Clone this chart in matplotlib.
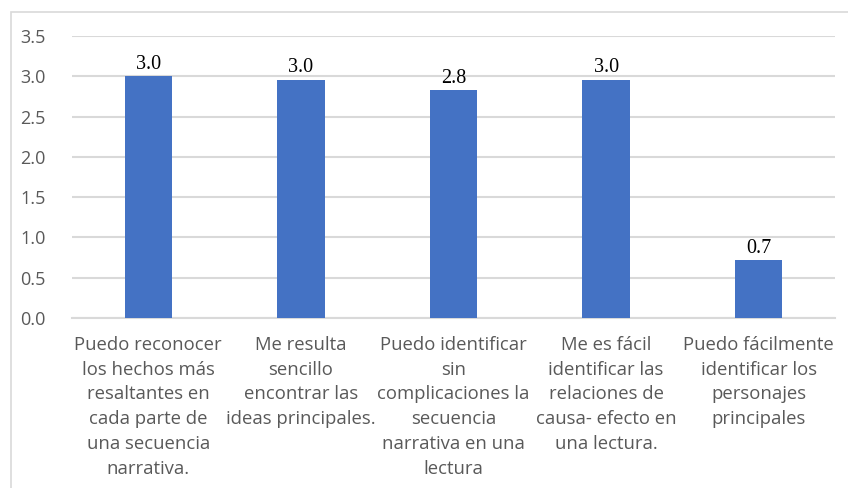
import matplotlib.pyplot as plt
from matplotlib.patches import Rectangle

# chart data
categories = [
    "Puedo reconocer\nlos hechos más\nresaltantes en\ncada parte de\nuna secuencia\nnarrativa.",
    "Me resulta\nsencillo\nencontrar las\nideas principales.",
    "Puedo identificar\nsin\ncomplicaciones la\nsecuencia\nnarrativa en una\nlectura",
    "Me es fácil\nidentificar las\nrelaciones de\ncausa- efecto en\nuna lectura.",
    "Puedo fácilmente\nidentificar los\npersonajes\nprincipales",
]
values = [3.0, 2.96, 2.83, 2.96, 0.72]
value_labels = ["3.0", "3.0", "2.8", "3.0", "0.7"]
yticks = [0.0, 0.5, 1.0, 1.5, 2.0, 2.5, 3.0, 3.5]

fig = plt.figure(figsize=(8.48, 4.88), dpi=100)

# light outer chart border
fig.patches.append(Rectangle((11 / 848, -0.05), 1.0, 1 - 12 / 488 + 0.05,
                             transform=fig.transFigure, fill=False,
                             ec='#d9d9d9', lw=1.2))

ax = fig.add_axes([72 / 848, 1 - 318 / 488, (835 - 72) / 848, (318 - 36) / 488])
x = range(len(values))
bars = ax.bar(x, values, width=0.31, color='#4472c4', zorder=3)

for b, lab in zip(bars, value_labels):
    ax.text(b.get_x() + b.get_width() / 2, b.get_height() + 0.03, lab,
            ha='center', va='bottom', fontsize=14.5,
            family='Liberation Serif', color='black')

ax.set_xlim(-0.5, len(values) - 0.5)
ax.set_ylim(0, 3.5)
ax.set_yticks(yticks)
ax.set_yticklabels([f"{t:.1f}" for t in yticks], fontsize=13,
                   family='Open Sans', color='#595959')
ax.set_xticks(list(x))
ax.set_xticklabels(categories, fontsize=13.3, family='Open Sans',
                   color='#595959', linespacing=1.48)
ax.tick_params(length=0)
ax.tick_params(axis='y', pad=19)
ax.tick_params(axis='x', pad=13)
ax.grid(axis='y', color='#d9d9d9', lw=1.5, zorder=0)
for s in ['top', 'right', 'left']:
    ax.spines[s].set_visible(False)
ax.spines['bottom'].set_color('#d9d9d9')
ax.spines['bottom'].set_linewidth(1.5)

fig.savefig('out.png', dpi=100)
